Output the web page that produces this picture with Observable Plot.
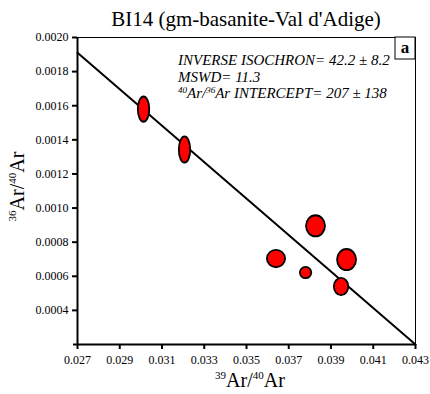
<!DOCTYPE html>
<html>
<head>
<meta charset="utf-8">
<script src="https://cdn.jsdelivr.net/npm/d3@7"></script>
<script src="https://cdn.jsdelivr.net/npm/@observablehq/plot@0.6"></script>
<style>
  body { margin: 0; background: white; }
  #title { width: 430px; height: 30px; box-sizing: border-box; padding-left: 62px; text-align: center;
           font-family: "Liberation Serif", serif; font-size: 21px; line-height: 38px; overflow: visible; white-space: nowrap; }
  #chart svg text { font-family: "Liberation Serif", serif; }
  #chart svg [aria-label="x-axis"] line, #chart svg [aria-label="y-axis"] line,
  #chart svg [aria-label="x-axis tick"] path, #chart svg [aria-label="y-axis tick"] path { stroke-width: 2; }
</style>
</head>
<body>
<div id="title">BI14 (gm-basanite-Val d'Adige)</div>
<div id="chart"></div>
<script>
// Data
const ar39_40 = [0.03015, 0.03209, 0.03642, 0.03829, 0.03782, 0.03976, 0.03950];
const ar36_40 = [0.001577, 0.00134, 0.000701, 0.000893, 0.000619, 0.000695, 0.000537];
const errX = [0.00027, 0.00027, 0.00043, 0.00045, 0.00027, 0.00045, 0.00034];
const errY = [0.000074, 0.000077, 0.000051, 0.000062, 0.000033, 0.000062, 0.000051];
const isoX = [0.027, 0.043];
const isoY = [0.00191, 0.0002];
const xTicks = [0.027, 0.029, 0.031, 0.033, 0.035, 0.037, 0.039, 0.041, 0.043];
const yTicks = [0.0004, 0.0006, 0.0008, 0.0010, 0.0012, 0.0014, 0.0016, 0.0018, 0.0020];
// rich text parts: [text, superscript?]
const annotationLines = [
  [["INVERSE ISOCHRON= 42.2 ± 8.2", false]],
  [["MSWD= 11.3", false]],
  [["40", true], ["Ar/", false], ["36", true], ["Ar INTERCEPT= 207 ± 138", false]]
];
const panelLabel = "a";
const xLabelParts = [["39", true], ["Ar/", false], ["40", true], ["Ar", false]];
const yLabelParts = [["36", true], ["Ar/", false], ["40", true], ["Ar", false]];

const points = ar39_40.map((x, i) => ({x, y: ar36_40[i], ex: errX[i], ey: errY[i]}));
const isoLine = isoX.map((x, i) => ({x, y: isoY[i]}));

function rich(text, parts, size, supSize, supRaise) {
  let raised = false;
  for (const [s, sup] of parts) {
    const ts = text.append("tspan").text(s);
    if (sup && !raised) { ts.attr("font-size", supSize).attr("dy", -supRaise); raised = true; }
    else if (!sup && raised) { ts.attr("font-size", size).attr("dy", supRaise); raised = false; }
    else ts.attr("font-size", sup ? supSize : size);
  }
}

const overlayMark = (index, scales, values, dimensions) => {
  const {x, y} = scales;
  const {width, height, marginLeft, marginRight, marginTop, marginBottom} = dimensions;
  const g = d3.create("svg:g").attr("aria-label", "ellipses and labels").attr("font-family", "Liberation Serif");
  g.selectAll("ellipse").data(points).join("ellipse")
    .attr("cx", d => x(d.x))
    .attr("cy", d => y(d.y))
    .attr("rx", d => Math.abs(x(d.x + d.ex) - x(d.x)))
    .attr("ry", d => Math.abs(y(d.y + d.ey) - y(d.y)))
    .attr("fill", "#ff0000")
    .attr("stroke", "black")
    .attr("stroke-width", 1.8);
  // panel label box
  const r = width - marginRight;
  g.append("rect").attr("x", r - 20).attr("y", marginTop).attr("width", 20).attr("height", 22)
    .attr("fill", "white").attr("stroke", "black").attr("stroke-width", 1);
  g.append("text").attr("x", r - 10).attr("y", marginTop + 16).attr("text-anchor", "middle")
    .attr("font-size", 17).attr("font-weight", "bold").text(panelLabel);
  // annotation
  annotationLines.forEach((parts, i) => {
    const t = g.append("text").attr("x", marginLeft + 101).attr("y", marginTop + 28 + i * 16.5)
      .attr("text-anchor", "start").attr("font-style", "italic").attr("font-size", 15);
    rich(t, parts, 15, 9, 5);
  });
  // axis labels
  const cx = (marginLeft + width - marginRight) / 2 + 4;
  const xl = g.append("text").attr("x", cx).attr("y", height - 7).attr("text-anchor", "middle").attr("font-size", 20);
  rich(xl, xLabelParts, 20, 11, 8);
  const cy = (marginTop + height - marginBottom) / 2;
  const yl = g.append("text").attr("transform", `translate(24,${cy - 4}) rotate(-90)`).attr("text-anchor", "middle").attr("font-size", 20);
  rich(yl, yLabelParts, 20, 11, 8);
  return g.node();
};

const chart = Plot.plot({
  width: 430,
  height: 364,
  marginTop: 7,
  marginRight: 15,
  marginBottom: 50,
  marginLeft: 77,
  style: {fontFamily: "Liberation Serif", fontSize: "12px", color: "black", background: "white"},
  x: {domain: [0.027, 0.043], ticks: xTicks, tickFormat: d3.format(".3f"), tickSize: 5, tickPadding: 6, label: null},
  y: {domain: [0.0002, 0.0020], ticks: yTicks, tickFormat: d3.format(".4f"), tickSize: 5, tickPadding: 4, label: null},
  marks: [
    Plot.frame({stroke: "black", strokeWidth: 1}),
    Plot.ruleX([0.027], {stroke: "black", strokeWidth: 2}),
    Plot.ruleY([0.0002], {stroke: "black", strokeWidth: 2, insetLeft: -4}),
    Plot.line(isoLine, {x: "x", y: "y", stroke: "black", strokeWidth: 2}),
    overlayMark
  ]
});
document.getElementById("chart").append(chart);
</script>
</body>
</html>
